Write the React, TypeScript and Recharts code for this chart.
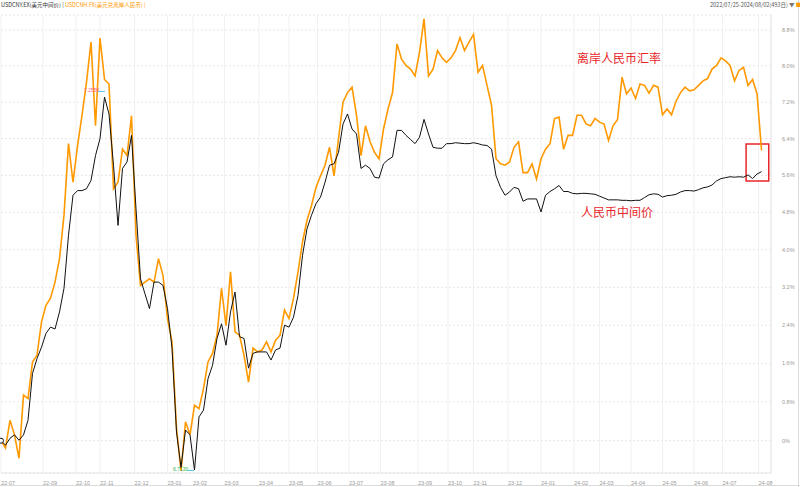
import React from 'react'
import { LineChart, Line, XAxis, YAxis, CartesianGrid, ReferenceArea, ReferenceDot } from 'recharts'

// samples are taken every STEP trading days from 2022-07-25
const STEP = 3

const monthLabels = [
  '22-07', '22-09', '22-10', '22-11', '22-12', '23-01', '23-02', '23-03', '23-04', '23-05', '23-06', '23-07',
  '23-08', '23-09', '23-10', '23-11', '23-12', '24-01', '24-02', '24-03', '24-04', '24-05', '24-06', '24-07', '24-08',
]
// trading-day index at which each labelled month starts
const monthStarts = [
  0, 28, 50, 66, 89, 111, 128, 149, 172, 192, 211, 232, 253, 278, 298, 315, 338, 360, 382, 399, 420, 441, 462, 481, 505,
]

// USDCNY central parity, % change since 2022-07-25
const fixPct = [
  0, -0.09, 0.05, 0.12, 0.01, 0.12, 0.42, 1.39, 1.7, 1.94, 2.23, 2.36, 2.32, 2.68, 3.18, 4.31, 5.17, 5.27, 5.27, 5.31,
  5.49, 6.03, 6.4, 7.31, 6.94, 5.82, 4.52, 5.75, 5.89, 6.47, 4.88, 3.38, 3.06, 2.75, 3.31, 3.31, 3.24, 2.75, 1.92, 0.18,
  -0.55, 0.22, 0.12, -0.6, 0.49, 0.63, 1.28, 1.56, 2.12, 2.43, 1.98, 2.68, 3.1, 2.16, 2.12, 1.5, 1.81, 1.84, 1.84, 1.84,
  1.67, 1.88, 1.92, 2.4, 2.36, 2.57, 3.03, 3.88, 4.45, 4.74, 4.99, 5.13, 5.45, 5.82, 5.85, 6.1, 6.72, 6.94, 6.61, 6.5,
  5.75, 5.82, 5.75, 5.56, 5.54, 5.85, 5.94, 6.0, 6.58, 6.58, 6.47, 6.38, 6.29, 6.43, 6.82, 6.5, 6.21, 6.19, 6.19, 6.29,
  6.29, 6.31, 6.3, 6.29, 6.29, 6.31, 6.29, 6.26, 6.25, 6.17, 5.59, 5.34, 5.17, 5.24, 5.34, 5.31, 5.04, 5.09, 5.09, 5.09,
  4.81, 5.17, 5.25, 5.31, 5.38, 5.25, 5.25, 5.21, 5.2, 5.21, 5.21, 5.2, 5.19, 5.15, 5.11, 5.07, 5.07, 5.07, 5.06, 5.06,
  5.05, 5.06, 5.06, 5.12, 5.18, 5.2, 5.19, 5.13, 5.16, 5.17, 5.19, 5.24, 5.27, 5.27, 5.26, 5.29, 5.33, 5.35, 5.39, 5.48,
  5.53, 5.55, 5.57, 5.56, 5.57, 5.56, 5.61, 5.53, 5.63, 5.68,
]

// USDCNH offshore rate, % change since 2022-07-25
const cnhPct = [
  0, -0.15, 0.42, 0.12, -0.36, 0.94, 0.87, 1.63, 1.77, 2.47, 2.82, 2.97, 3.31, 3.81, 4.74, 6.29, 5.45, 6.24, 6.91, 7.64,
  8.53, 6.68, 8.62, 7.7, 7.6, 5.31, 5.45, 6.17, 6.03, 6.9, 4.31, 3.24, 3.31, 3.38, 3.31, 3.81, 3.45, 2.54, 2.05, 0.25,
  -0.62, 0.39, 0.12, 0.73, 0.66, 1.08, 1.63, 1.81, 2.19, 3.18, 2.39, 3.53, 2.26, 2.19, 1.77, 1.21, 1.92, 1.84, 1.88, 2.05,
  1.84, 2.08, 2.19, 2.72, 2.54, 2.97, 3.53, 4.17, 4.63, 4.95, 5.34, 5.59, 5.82, 6.21, 5.59, 6.4, 7.2, 7.41, 7.53, 6.91,
  6.03, 6.68, 6.33, 6.1, 5.96, 6.61, 7.05, 7.41, 8.49, 8.15, 8.01, 7.93, 7.78, 8.3, 9.05, 7.78, 7.93, 8.34, 8.18, 8.08,
  8.18, 8.34, 8.63, 8.34, 8.53, 8.7, 7.86, 8.01, 7.57, 7.13, 5.96, 5.85, 5.82, 5.89, 6.21, 6.33, 5.66, 5.66, 5.85, 5.52,
  5.96, 6.17, 6.29, 6.84, 6.87, 6.17, 6.47, 6.47, 6.91, 6.91, 6.72, 6.68, 6.84, 6.76, 6.72, 6.36, 6.68, 6.82, 7.75, 7.38,
  7.51, 7.28, 7.6, 7.57, 7.4, 7.57, 7.53, 6.92, 7.05, 6.92, 7.22, 7.41, 7.53, 7.45, 7.47, 7.57, 7.67, 7.72, 7.93, 8.01,
  8.18, 8.11, 8.01, 7.67, 7.9, 7.97, 7.57, 7.7, 7.38, 6.14,
]

const yTicks = [0, 0.8, 1.6, 2.4, 3.2, 4.0, 4.8, 5.6, 6.4, 7.2, 8.0, 8.8]

// price index (start = 100) so the log axis behaves like the original terminal chart
const data = fixPct.map((v, i) => ({ day: i * STEP, fix: 100 + v, cnh: 100 + cnhPct[i] }))

const axisFont = '"Liberation Sans", Arial, sans-serif'
const cjkFont = '"Noto Sans CJK SC", "Liberation Sans", sans-serif'

const MonthTick = (props: any) => {
  const { x, y, payload } = props
  const idx = monthStarts.indexOf(payload.value)
  return (
    <text x={x} y={y + 4} fontSize={5.5} fill="#999" textAnchor="start" fontFamily={axisFont}>
      {idx >= 0 ? monthLabels[idx] : ''}
    </text>
  )
}

const PctTick = (props: any) => {
  const { x, y, payload } = props
  const p = payload.value - 100
  const label = Math.abs(p) < 0.01 ? '0%' : `${p.toFixed(1)}%`
  return (
    <text x={x + 3} y={y + 2} fontSize={5.5} fill="#999" textAnchor="start" fontFamily={axisFont}>
      {label}
    </text>
  )
}

export default function App() {
  return (
    <div style={{ position: 'absolute', left: 0, top: 0, width: 800, height: 487, background: '#fff', overflow: 'hidden' }}>
      <LineChart width={800} height={487} data={data} margin={{ top: 15, right: 0, bottom: 0, left: 1 }}>
        <CartesianGrid horizontal={true} vertical={false} stroke="#e6e6e6" strokeDasharray="2 2" />
        <CartesianGrid horizontal={false} vertical={true} stroke="#f1f1f1" />
        <XAxis
          type="number"
          dataKey="day"
          domain={[0, 513.3]}
          ticks={monthStarts}
          interval={0}
          height={14}
          axisLine={{ stroke: '#e6e6e6' }}
          tickLine={false}
          tick={<MonthTick />}
        />
        <YAxis
          orientation="right"
          scale="log"
          domain={[99.339, 109.135]}
          allowDataOverflow
          ticks={yTicks.map((t) => 100 + t)}
          interval={0}
          width={29}
          axisLine={{ stroke: '#e6e6e6' }}
          tickLine={false}
          tick={<PctTick />}
        />
        <Line type="linear" dataKey="cnh" stroke="#ff9900" strokeWidth={1.6} dot={false} isAnimationActive={false} />
        <Line type="linear" dataKey="fix" stroke="#111" strokeWidth={1} dot={false} isAnimationActive={false} />
        <ReferenceDot x={0} y={100} r={2.5} fill="#fff" stroke="#111" strokeWidth={1} />
        <ReferenceArea x1={496.7} x2={511.8} y1={105.48} y2={106.28} fill="none" stroke="#e8262a" strokeWidth={1.5} />
      </LineChart>

      {/* frame of the terminal panel */}
      <div style={{ position: 'absolute', left: 798, top: 0, width: 1, height: 487, background: '#dcdcdc' }} />
      <div style={{ position: 'absolute', left: 0, top: 485, width: 800, height: 1, background: '#dcdcdc' }} />

      <div style={{ position: 'absolute', left: 1, top: 1, fontSize: 5.5, fontFamily: cjkFont, whiteSpace: 'nowrap', lineHeight: '8px' }}>
        <span style={{ color: '#333' }}>USDCNY.EX(美元中间价) | </span>
        <span style={{ color: '#ff9900' }}>USDCNH.FX(美元兑离岸人民币) |</span>
      </div>
      <div style={{ position: 'absolute', left: 710, top: 1, fontSize: 5.5, fontFamily: cjkFont, color: '#555', whiteSpace: 'nowrap', lineHeight: '8px' }}>
        2022/07/25-2024/08/02(493日) <span style={{ color: '#777' }}>▼</span> <span style={{ color: '#ff9900' }}>■</span>
      </div>

      <div style={{ position: 'absolute', left: 84, top: 87, fontSize: 5, fontFamily: axisFont, color: '#ff5b7f' }}>7.2555</div>
      <div style={{ position: 'absolute', left: 98, top: 91, width: 7, height: 1, background: '#5bc8e8' }} />
      <div style={{ position: 'absolute', left: 173, top: 466, fontSize: 5, fontFamily: axisFont, color: '#33b24a' }}>6.7130</div>
      <div style={{ position: 'absolute', left: 187, top: 470, width: 7, height: 1, background: '#5bc8e8' }} />

      <div style={{ position: 'absolute', left: 577, top: 49, fontSize: 12, fontFamily: cjkFont, color: '#e8262a', whiteSpace: 'nowrap' }}>
        离岸人民币汇率
      </div>
      <div style={{ position: 'absolute', left: 581, top: 203, fontSize: 12, fontFamily: cjkFont, color: '#e8262a', whiteSpace: 'nowrap' }}>
        人民币中间价
      </div>
    </div>
  )
}
